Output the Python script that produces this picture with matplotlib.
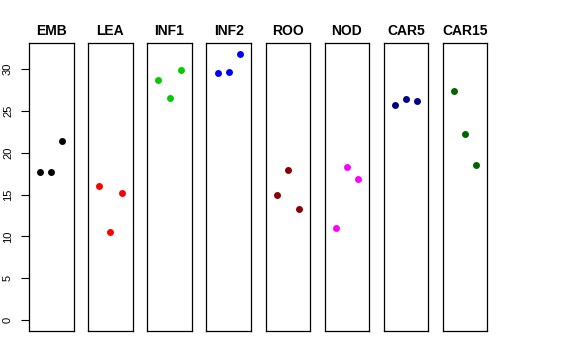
import matplotlib
matplotlib.use("Agg")
import matplotlib.pyplot as plt

plt.rcParams['font.family'] = ['Liberation Sans', 'DejaVu Sans']

tissues = ['EMB', 'LEA', 'INF1', 'INF2', 'ROO', 'NOD', 'CAR5', 'CAR15']
values = {
    'EMB':   [17.65, 17.65, 21.4],
    'LEA':   [16.05, 10.56, 15.17],
    'INF1':  [28.7, 26.5, 29.87],
    'INF2':  [29.55, 29.67, 31.8],
    'ROO':   [14.93, 17.96, 13.26],
    'NOD':   [11.07, 18.33, 16.85],
    'CAR5':  [25.69, 26.37, 26.17],
    'CAR15': [27.36, 22.26, 18.48],
}
colors = ['black', 'red', '#00CD00', 'blue', '#8B0000', 'magenta', '#00008B', '#006400']
reps = [1, 2, 3]
yticks = [0, 5, 10, 15, 20, 25, 30]

W, H = 576, 360
fig = plt.figure(figsize=(W / 100, H / 100), dpi=100)

ymax = max(max(v) for v in values.values())
pad = 0.04 * ymax
left0, step, width = 29, 59.14, 44.5
top, bottom = 43, 331

for i, (name, col) in enumerate(zip(tissues, colors)):
    x0 = left0 + i * step
    ax = fig.add_axes([x0 / W, 1 - bottom / H, width / W, (bottom - top) / H])
    ax.plot(reps, values[name], 'o', color=col, markersize=5, markeredgewidth=0)
    ax.set_xlim(0, 4)
    ax.set_ylim(-pad, ymax + pad)
    ax.set_xticks([])
    for s in ax.spines.values():
        s.set_linewidth(0.9)
    ax.set_title(name, fontsize=10, fontweight='bold', pad=6)
    if i == 0:
        ax.set_yticks(yticks)
        ax.tick_params(axis='y', length=5.5, width=0.8, labelsize=8, pad=6)
        plt.setp(ax.get_yticklabels(), rotation=90, va='center')
    else:
        ax.set_yticks([])

fig.savefig('out.png', dpi=100)
